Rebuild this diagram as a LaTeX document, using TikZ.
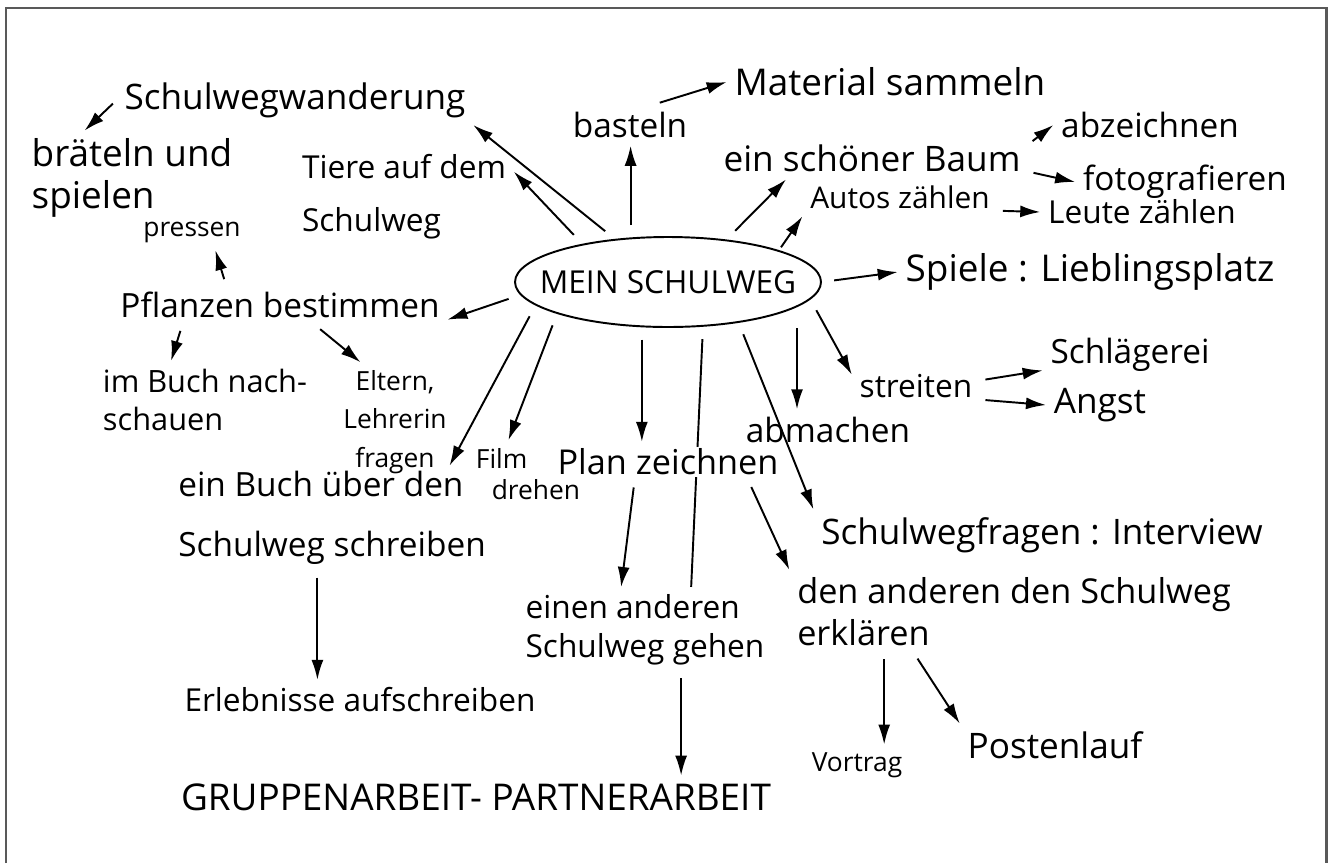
\documentclass[tikz,border=0pt]{standalone}
\usepackage{fontspec}
\setmainfont{Open Sans}
\usetikzlibrary{arrows.meta, shapes.geometric, backgrounds}

\newcommand{\fs}[2]{\fontsize{#1}{#2}\selectfont}

\begin{document}
\begin{tikzpicture}[x=0.02cm, y=-0.02cm, line width=1.1pt,
    % --- styles ---
    core_bubble/.style={ellipse, draw, minimum width=6.1cm, minimum height=1.8cm,
        inner xsep=-0.4cm, inner ysep=0pt, font=\fs{18}{20}},
    idea/.style={inner sep=1.5pt, outer sep=3pt, align=left},
    branch/.style={-{Latex[length=4mm, width=2.4mm]}, shorten <=3pt},
    spoke/.style={branch, shorten <=7pt}
]
    \useasboundingbox (0,0) rectangle (1332,863);

    % frame (open at the bottom)
    \draw[line width=1.7pt, black!65] (6,863) -- (6,8) -- (1326,8) -- (1326,863);

    % =========================================
    % centre
    % =========================================
    \node[core_bubble] (c) at (668,282) {MEIN SCHULWEG};

    % =========================================
    % ideas, left half
    % =========================================
    \node[idea, font=\fs{20}{24}] (wander) at (295,100) {Schulwegwanderung};
    \node[idea, font=\fs{21}{24}] (braet) at (132,178) {bräteln und\\spielen};
    \node[idea, font=\fs{18}{30}] (tiere) at (404,197) {Tiere auf dem\\Schulweg};
    \node[idea, font=\fs{15}{18}] (pressen) at (192,232) {pressen};
    \node[idea, font=\fs{19}{22}] (pflanz) at (280,305) {Pflanzen bestimmen};
    \node[idea, font=\fs{17.5}{22}] (buch1) at (205,400) {im Buch nach-\\schauen};
    \node[idea, align=center, font=\fs{15}{22}] (eltern) at (395,422) {Eltern,\\Lehrerin\\fragen};
    \node[idea, font=\fs{15}{18}] (film) at (528,474) {Film\\\hspace*{0.6em}drehen};
    \node[idea, font=\fs{19}{34}] (buch2) at (332,518) {ein Buch über den\\Schulweg schreiben};
    \node[idea, font=\fs{18}{22}] (erleb) at (360,700) {Erlebnisse aufschreiben};
    \node[idea, font=\fs{21}{24}] (gruppe) at (476,797) {GRUPPENARBEIT- PARTNERARBEIT};

    % =========================================
    % ideas, bottom (plan first, so that its white fill stays below abmachen)
    % =========================================
    \node[idea, fill=white, inner sep=1pt, font=\fs{19.5}{24}] (plan) at (668,462) {Plan zeichnen};
    \node[idea, font=\fs{20}{24}] (fragen) at (1042,535) {Schulwegfragen : Interview};
    \node[idea, font=\fs{18}{22}] (anders) at (645,630) {einen anderen\\Schulweg gehen};
    \node[idea, font=\fs{19.5}{24}] (erkl) at (1014,612) {den anderen den Schulweg\\erklären};
    \node[idea, font=\fs{15}{18}] (vortrag) at (857,765) {Vortrag};
    \node[idea, font=\fs{20}{24}] (posten) at (1055,745) {Postenlauf};

    % =========================================
    % ideas, top and right
    % =========================================
    \node[idea, font=\fs{19}{22}] (bast) at (630,125) {basteln};
    \node[idea, font=\fs{21}{24}] (mat) at (890,82) {Material sammeln};
    \node[idea, font=\fs{20}{24}] (baum) at (872,158) {ein schöner Baum};
    \node[idea, font=\fs{19}{22}] (abz) at (1150,125) {abzeichnen};
    \node[idea, font=\fs{19}{22}] (foto) at (1185,182) {fotografieren};
    \node[idea, font=\fs{17}{20}] (autos) at (900,197) {Autos zählen};
    \node[idea, font=\fs{18}{22}] (leute) at (1142,212) {Leute zählen};
    \node[idea, font=\fs{21}{24}] (spiele) at (1090,272) {Spiele : Lieblingsplatz};
    \node[idea, font=\fs{18}{22}] (streit) at (916,386) {streiten};
    \node[idea, font=\fs{19}{22}] (schlaeg) at (1130,355) {Schlägerei};
    \node[idea, font=\fs{20}{24}] (angst) at (1100,405) {Angst};
    \node[idea, font=\fs{19}{22}] (abm) at (828,430) {abmachen};

    % --- spokes from the centre ---
    \draw[spoke] (c.141) -- (wander.-8);
    \draw[spoke] (c.156) -- (tiere.13);
    \draw[spoke] (c.130) -- (c.130 |- bast.south);
    \draw[spoke] (c.36) -- (baum.194);
    \draw[spoke, shorten <=2pt] (c.16) -- (autos.south west);
    \draw[spoke] (c.east) -- (spiele.west);
    \draw[spoke] (c.185) -- (pflanz.-5);
    \draw[spoke, shorten >=-6pt] (c.190) -- (eltern.-30);
    \draw[spoke] (c.196) -- (film.120);
    \draw[spoke] (c.240) -- (c.240 |- plan.north);
    \draw[spoke] (c.-30) -- (fragen.north west);
    \draw[spoke, shorten <=12pt] (c.-11) -- (c.-11 |- abm.north);
    \draw[spoke] (c.-7) -- (streit.170);
    \begin{scope}[on background layer]
        \draw[line width=1.1pt, shorten <=7pt] (c.-52) -- (anders.43);
    \end{scope}

    % --- second level ---
    \draw[branch] (wander.west) -- (braet.135);
    \draw[branch] (bast.40) -- (mat.west);
    \draw[branch] (baum.5) -- (abz.west);
    \draw[branch] (baum.-5) -- (foto.west);
    \draw[branch] (autos.-8) -- (leute.west);
    \draw[branch] (pflanz.159) -- (pressen.-38);
    \draw[branch] (pflanz.192) -- (buch1.131);
    \draw[branch] (pflanz.-30) -- (eltern.120);
    \draw[branch] (streit.5) -- (schlaeg.190);
    \draw[branch] (streit.-12) -- (angst.west);
    \draw[branch] (buch2.255) -- (buch2.255 |- erleb.north);
    \draw[branch] (plan.211) -- (anders.119);
    \draw[branch] (plan.-14) -- (erkl.north west);
    \draw[branch] (anders.-50) -- (anders.-50 |- gruppe.north);
    \draw[branch] (erkl.south -| vortrag.37) -- (vortrag.37);
    \draw[branch] (erkl.203) -- (posten.north west);

\end{tikzpicture}
\end{document}
